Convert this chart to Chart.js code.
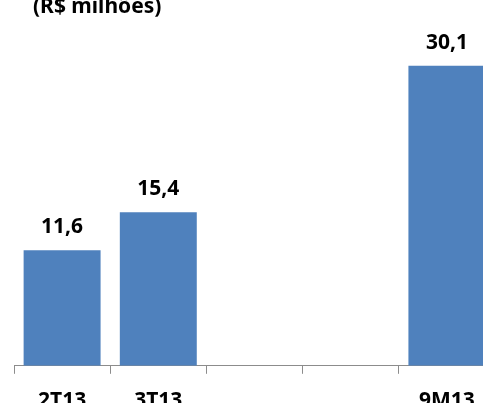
<!DOCTYPE html>
<html>
<head>
<meta charset="utf-8">
<script src="https://cdn.jsdelivr.net/npm/chart.js@4"></script>
<style>
  html, body { margin: 0; padding: 0; background: #fff; overflow: hidden; width: 483px; height: 403px; }
  #wrap { position: absolute; left: 0; top: 0; }
</style>
</head>
<body>
<div id="wrap"><canvas id="chart" width="510" height="430"></canvas></div>
<script>
// dados (R$ milhões)
const periodos = ['2T13', '3T13', '', '', '9M13'];
const valores = [11.6, 15.4, null, null, 30.1];
const titulo = '(R$ milhões)';

const FONTE = '"Noto Sans", "Liberation Sans", sans-serif';
const AZUL = '#4F81BD';

// rótulos de valor acima das barras + título no canto
const rotulos = {
    id: 'rotulos',
    afterDatasetsDraw(chart) {
        const ctx = chart.ctx;
        const meta = chart.getDatasetMeta(0);
        ctx.save();
        ctx.fillStyle = '#000';
        ctx.font = 'bold 21px ' + FONTE;
        ctx.textAlign = 'center';
        ctx.textBaseline = 'alphabetic';
        meta.data.forEach((bar, i) => {
            const v = valores[i];
            if (v == null) return;
            ctx.fillText(v.toFixed(1).replace('.', ','), bar.x, bar.y - 17);
        });
        ctx.textAlign = 'left';
        ctx.fillText(titulo, 33, 13);
        ctx.restore();
    }
};

new Chart(document.getElementById('chart'), {
    type: 'bar',
    data: {
        labels: periodos,
        datasets: [{
            data: valores,
            backgroundColor: AZUL,
            borderWidth: 0,
            barPercentage: 0.8,
            categoryPercentage: 1.0
        }]
    },
    options: {
        responsive: false,
        animation: false,
        devicePixelRatio: 1,
        layout: { padding: { left: 14, right: 15, top: 17, bottom: 1 } },
        plugins: {
            legend: { display: false },
            tooltip: { enabled: false }
        },
        scales: {
            y: { display: false, min: 0, max: 35 },
            x: {
                offset: true,
                grid: {
                    offset: true,
                    drawOnChartArea: false,
                    drawTicks: true,
                    tickLength: 8,
                    color: '#8c8c8c'
                },
                border: { color: '#8c8c8c', width: 1 },
                ticks: {
                    color: '#000',
                    padding: 15,
                    maxRotation: 0,
                    font: { family: FONTE, size: 21, weight: 'bold' }
                }
            }
        }
    },
    plugins: [rotulos]
});
</script>
</body>
</html>
